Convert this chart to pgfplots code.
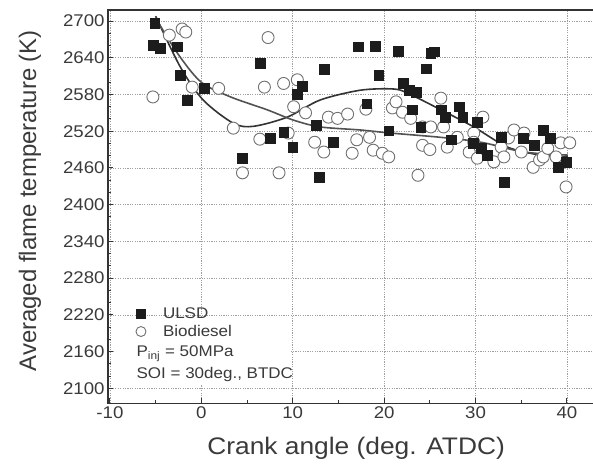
\documentclass[border=0pt]{standalone}
\usepackage{fontspec}
\setmainfont{Liberation Sans}[FakeStretch=1.1]
\newfontfamily\ylabfont{Liberation Sans}
\usepackage{pgfplots}
\pgfplotsset{compat=1.18}
\definecolor{txt}{HTML}{3A3A3A}
\definecolor{axc}{HTML}{333333}
\definecolor{sq}{HTML}{1C1C1C}
\definecolor{circ}{HTML}{707070}

% ULSD, black squares
\pgfplotstableread{
x y
-5.1 2697
-5.3 2661
-4.5 2656
-2.65 2658
-2.3 2612
-1.55 2571
0.3 2590
4.5 2476
6.4 2631
7.5 2509
9.0 2519
10.0 2494
10.5 2580
11.0 2594
12.6 2530
12.9 2445
13.4 2621
14.45 2502
17.2 2658
18.1 2565
19.0 2659
19.4 2612
20.5 2521
21.5 2651
22.1 2598
22.7 2587
23.1 2555
23.5 2584
24.0 2527
24.6 2622
25.1 2648
25.5 2650
26.2 2555
26.7 2543
27.3 2506
28.2 2560
28.6 2543
29.7 2501
30.2 2535
30.6 2492
31.3 2481
32.8 2510
33.1 2437
35.2 2509
36.4 2497
37.4 2522
38.2 2509
39.0 2461
39.9 2470
}\ulsd

% Biodiesel, open circles
\pgfplotstableread{
x y
-5.3 2576
-3.5 2677
-2.1 2687
-1.7 2682
-1.0 2592
1.9 2590
3.5 2525
4.5 2452
6.4 2507
6.9 2592
7.3 2673
8.5 2452
9.0 2598
9.5 2517
10.1 2560
10.5 2604
11.4 2550
12.4 2502
13.4 2486
13.9 2543
14.9 2541
16.0 2548
16.5 2484
17.0 2506
18.0 2556
18.4 2510
18.8 2489
19.8 2484
20.5 2478
20.9 2558
21.3 2568
22.0 2551
22.9 2541
23.7 2448
24.2 2527
24.2 2497
25.0 2490
25.1 2527
26.2 2574
26.5 2527
26.9 2494
28.0 2510
29.3 2486
29.8 2517
29.8 2502
30.2 2476
30.8 2543
32.0 2470
32.8 2494
33.1 2478
33.6 2509
34.2 2522
35.0 2486
35.3 2517
36.3 2461
37.0 2473
37.4 2478
37.9 2492
38.8 2478
39.3 2501
39.9 2429
40.3 2501
}\bio

% fitted curves
\pgfplotstableread{
x y
-5.0 2708
-2.3 2625
0.2 2571
3.5 2533
5.7 2528
9.4 2543
13.0 2571
17.4 2587
21.0 2589
22.6 2582
26.2 2555
29.8 2527
33.5 2494
37.1 2481
40.1 2478
}\fitulsd

\pgfplotstableread{
x y
-5.0 2705
-2.5 2645
0.0 2600
3.2 2576
7.2 2555
10.1 2538
13.0 2527
17.4 2522
20.7 2517
26.2 2510
30.6 2502
35.3 2486
40.1 2481
}\fitbio

\begin{document}
\begin{tikzpicture}
\useasboundingbox (-108bp,-64bp) rectangle (484.5bp,403bp);
\begin{axis}[
  scale only axis, width=485bp, height=393bp,
  xmin=-10.2, xmax=42.9, ymin=2075.5, ymax=2718,
  xtick={-10,0,...,40}, ytick={2100,2160,...,2700},
  minor x tick num=1, minor y tick num=2,
  xtick pos=bottom, ytick pos=left, tick align=inside,
  major tick length=5bp, minor tick length=3bp,
  tick style={color=axc, line width=1bp},
  axis line style={color=axc, line width=1.5bp},
  grid=major,
  major grid style={color=gray!75, line width=0.6bp, dash pattern=on 1.2bp off 1.2bp},
  ticklabel style={font=\fontsize{17}{17}\selectfont, text=txt},
  /pgf/number format/assume math mode=true,
  /pgf/number format/1000 sep={},
  xlabel={Crank angle (deg. ATDC)},
  ylabel={\ylabfont Averaged flame temperature (K)},
  label style={font=\fontsize{24}{24}\selectfont, text=txt},
  xlabel style={at={(axis description cs:0.511,-0.115)}, anchor=center},
  ylabel style={at={(axis description cs:-0.161,0.515)}, anchor=center},
  legend style={at={(axis description cs:0.055,0.252)}, anchor=north west,
    draw=none, fill=none, font=\fontsize{15.5}{15.5}\selectfont, text=txt,
    row sep=1.5bp, inner sep=1bp,
    /tikz/every odd column/.append style={column sep=15bp}},
  legend cell align=left,
  legend image code/.code={\draw[#1] (0bp,0bp) -- plot coordinates {(0bp,0bp)};},
]
\addplot[only marks, mark=*, mark size=6bp,
  mark options={fill=white, draw=circ, line width=0.9bp}, forget plot]
  table[x=x, y=y] {\bio};
\addplot[only marks, mark=square*, mark size=4.9bp,
  mark options={fill=sq, draw=sq}, forget plot]
  table[x=x, y=y] {\ulsd};
\addplot[smooth, color=axc, line width=1.6bp, forget plot] table[x=x, y=y] {\fitulsd};
\addplot[smooth, color=axc!85, line width=1.6bp, forget plot] table[x=x, y=y] {\fitbio};

\fill[white] (axis cs:-9.4,2216) rectangle (axis cs:9.8,2106);
\node[anchor=west, font=\fontsize{15.5}{15.5}\selectfont, text=txt, inner sep=0pt]
  at (axis cs:-7.1,2157) {P\textsubscript{inj} = 50MPa};
\node[anchor=west, font=\fontsize{15.5}{15.5}\selectfont, text=txt, inner sep=0pt]
  at (axis cs:-7.1,2122) {SOI = 30deg., BTDC};

\addlegendimage{only marks, mark=square*, mark size=4.3bp, mark options={fill=sq, draw=sq}}
\addlegendentry{ULSD}
\addlegendimage{only marks, mark=*, mark size=5bp, mark options={fill=white, draw=circ, line width=0.9bp}}
\addlegendentry{Biodiesel}
\end{axis}
\end{tikzpicture}
\end{document}
